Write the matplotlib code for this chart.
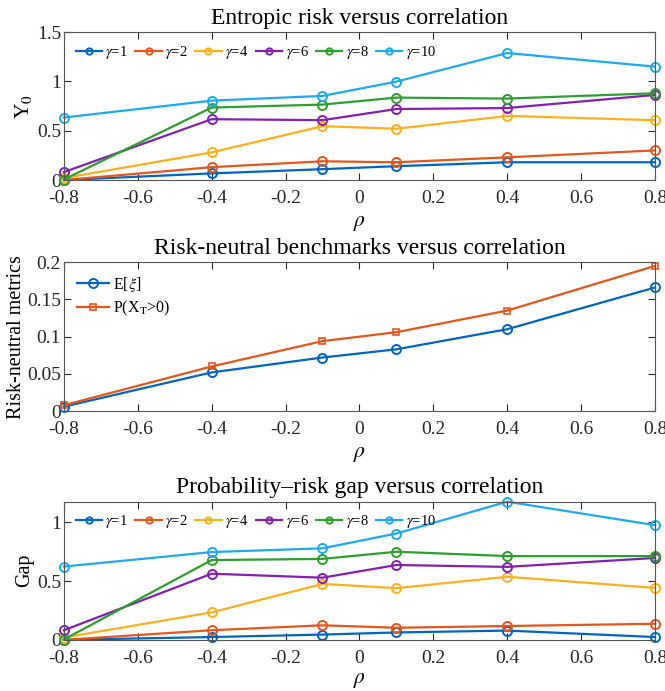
import matplotlib
matplotlib.use("Agg")
import matplotlib.pyplot as plt
import matplotlib.ticker as ticker
import numpy as np

plt.rcParams['font.family'] = ['Liberation Serif', 'DejaVu Serif']
plt.rcParams['mathtext.fontset'] = 'stix'

########################### data #############################
rho = [-0.8, -0.4, -0.1, 0.1, 0.4, 0.8]
gammas = [1, 2, 4, 6, 8, 10]

# Y0 (entropic risk)
y0_g1 = [0.0, 0.067, 0.11, 0.14, 0.18, 0.18]
y0_g2 = [0.0, 0.13, 0.19, 0.18, 0.23, 0.30]
y0_g4 = [0.02, 0.28, 0.546, 0.52, 0.65, 0.607]
y0_g6 = [0.08, 0.617, 0.607, 0.72, 0.73, 0.863]
y0_g8 = [0.005, 0.735, 0.765, 0.836, 0.826, 0.88]
y0_g10 = [0.634, 0.805, 0.853, 0.998, 1.288, 1.15]

# risk-neutral benchmarks
e_xi = [0.006, 0.052, 0.072, 0.083, 0.110, 0.166]
p_pos = [0.008, 0.060, 0.094, 0.106, 0.135, 0.195]

# probability-risk gap
gap_g1 = [0.0, 0.024, 0.045, 0.063, 0.079, 0.024]
gap_g2 = [0.0, 0.082, 0.124, 0.103, 0.118, 0.137]
gap_g4 = [0.02, 0.234, 0.476, 0.44, 0.537, 0.442]
gap_g6 = [0.082, 0.563, 0.529, 0.637, 0.621, 0.697]
gap_g8 = [0.003, 0.679, 0.689, 0.75, 0.713, 0.713]
gap_g10 = [0.624, 0.747, 0.779, 0.905, 1.176, 0.976]

colours = ['#0064C2', '#E4561C', '#FDB01E', '#8420B0', '#2CA02C', '#1EAAEE']

y0_all = [y0_g1, y0_g2, y0_g4, y0_g6, y0_g8, y0_g10]
gap_all = [gap_g1, gap_g2, gap_g4, gap_g6, gap_g8, gap_g10]

fig = plt.figure(figsize=(6.65, 6.91), dpi=100)
left, width = 0.096, 0.889
ax1 = fig.add_axes([left, 0.7395, width, 0.214])
ax2 = fig.add_axes([left, 0.405, width, 0.2156])
ax3 = fig.add_axes([left, 0.074, width, 0.2000])

TITLE_FS = 17
LABEL_FS = 14.5
TICK_FS = 14


def style(ax, xpad=5):
    ax.set_xlim(-0.8, 0.8)
    ax.xaxis.set_major_locator(ticker.MultipleLocator(0.2))
    ax.xaxis.set_major_formatter(ticker.FuncFormatter(lambda v, p: '%g' % round(v, 2)))
    ax.yaxis.set_major_formatter(ticker.FuncFormatter(lambda v, p: '%g' % round(v, 3)))
    ax.tick_params(direction='in', top=True, right=True, labelsize=TICK_FS,
                   length=5, width=0.8, colors='#262626')
    ax.tick_params(axis='x', pad=7)
    ax.tick_params(axis='y', pad=2)
    for s in ax.spines.values():
        s.set_color('#555555')
        s.set_linewidth(0.8)
    ax.set_xlabel(r'$\rho$', fontsize=LABEL_FS + 1, labelpad=xpad)


leg_kw = dict(loc='upper left', frameon=False, fontsize=10.5, handlelength=1.8,
              handletextpad=0.25, borderaxespad=0.4, markerscale=0.7,
              columnspacing=0.5)

##################### Entropic risk ######################
for g, vals, c in zip(gammas, y0_all, colours):
    ax1.plot(rho, vals, '-o', color=c, mfc='none', ms=6.5, mew=1.4, lw=1.6,
             label=r'$\gamma$=%i' % g)
style(ax1)
ax1.set_ylim(0, 1.5)
ax1.yaxis.set_major_locator(ticker.MultipleLocator(0.5))
ax1.set_ylabel(r'Y$_0$', fontsize=LABEL_FS + 1, labelpad=2)
ax1.set_title('Entropic risk versus correlation', fontsize=TITLE_FS, pad=6)
ax1.legend(ncol=6, **leg_kw)

##################### Risk-neutral ######################
ax2.plot(rho, e_xi, '-o', color=colours[0], mfc='none', ms=6.5, mew=1.4, lw=1.6,
         label=r'E[$\xi$]')
ax2.plot(rho, p_pos, '-s', color=colours[1], mfc='none', ms=5, mew=1.2, lw=1.6,
         label=r'P(X$_\mathrm{T}$>0)')
style(ax2)
ax2.set_ylim(0, 0.2)
ax2.yaxis.set_major_locator(ticker.MultipleLocator(0.05))
ax2.set_ylabel('Risk-neutral metrics', fontsize=LABEL_FS, labelpad=1)
ax2.set_title('Risk-neutral benchmarks versus correlation', fontsize=TITLE_FS, pad=6)
ax2.legend(labelspacing=0.3, loc='upper left', frameon=False, fontsize=11.5,
           handlelength=2.0, handletextpad=0.3, borderaxespad=0.4)

##################### Gap ######################
for g, vals, c in zip(gammas, gap_all, colours):
    ax3.plot(rho, vals, '-o', color=c, mfc='none', ms=6.5, mew=1.4, lw=1.6,
             label=r'$\gamma$=%i' % g)
style(ax3, xpad=3)
ax3.set_ylim(0, max(gap_g10))
ax3.yaxis.set_major_locator(ticker.MultipleLocator(0.5))
ax3.set_ylabel('Gap', fontsize=LABEL_FS, labelpad=2)
ax3.set_title('Probability\u2013risk gap versus correlation', fontsize=TITLE_FS, pad=6)
ax3.legend(ncol=6, **leg_kw)

for ax in (ax1, ax2, ax3):
    for ln in ax.lines:
        ln.set_clip_on(False)

plt.savefig('out.png', dpi=100, facecolor='w')
